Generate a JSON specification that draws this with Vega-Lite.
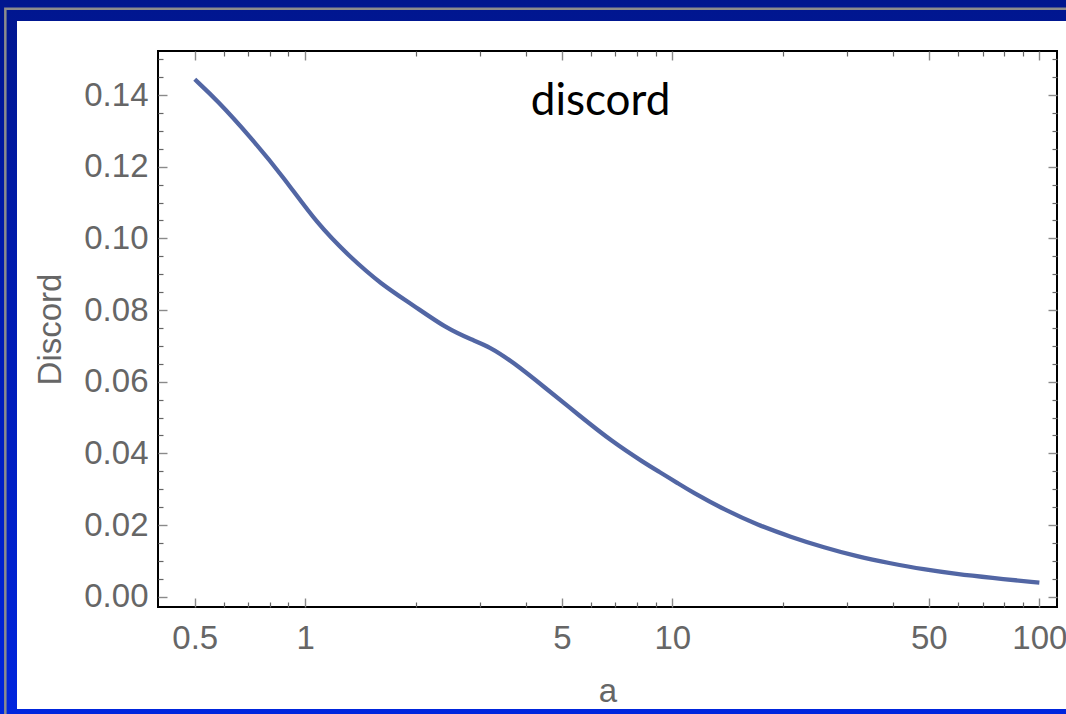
{
  "$schema": "https://vega.github.io/schema/vega-lite/v6.json",
  "width": 899,
  "height": 556,
  "autosize": "none",
  "padding": {"left": 158, "top": 51, "right": 9, "bottom": 107},
  "background": "#0a1fb0",
  "config": {
    "view": {"stroke": null},
    "axis": {
      "grid": false,
      "domain": false,
      "ticks": false,
      "labelFont": "Liberation Sans",
      "labelFontSize": 33,
      "labelColor": "#666666",
      "titleFont": "Liberation Sans",
      "titleFontSize": 33,
      "titleFontWeight": "normal",
      "titleColor": "#666666"
    }
  },
  "data": {
    "values": [
      {"a": 0.5, "D": 0.1444},
      {"a": 0.576, "D": 0.1385},
      {"a": 0.709, "D": 0.1283},
      {"a": 0.873, "D": 0.1171},
      {"a": 1.076, "D": 0.1041},
      {"a": 1.324, "D": 0.0948},
      {"a": 1.61, "D": 0.0872},
      {"a": 1.966, "D": 0.0814},
      {"a": 2.42, "D": 0.0749},
      {"a": 2.86, "D": 0.0716},
      {"a": 3.17, "D": 0.0698},
      {"a": 3.67, "D": 0.0656},
      {"a": 4.52, "D": 0.0582},
      {"a": 5.56, "D": 0.0507},
      {"a": 6.85, "D": 0.0433},
      {"a": 8.44, "D": 0.0372},
      {"a": 9.16, "D": 0.0350},
      {"a": 10.38, "D": 0.0316},
      {"a": 11.28, "D": 0.0293},
      {"a": 13.9, "D": 0.0242},
      {"a": 17.1, "D": 0.0200},
      {"a": 21.0, "D": 0.0167},
      {"a": 25.9, "D": 0.0137},
      {"a": 31.9, "D": 0.0112},
      {"a": 39.3, "D": 0.0093},
      {"a": 48.4, "D": 0.0076},
      {"a": 59.6, "D": 0.0063},
      {"a": 73.3, "D": 0.0053},
      {"a": 100, "D": 0.0039}
    ]
  },
  "resolve": {"axis": {"x": "independent", "y": "independent"}},
  "layer": [
    {
      "data": {"values": [{}]},
      "mark": {
        "type": "rect",
        "fill": {
          "gradient": "linear", "x1": 0, "y1": 0, "x2": 0, "y2": 1,
          "stops": [
            {"offset": 0.0, "color": "#00148a"},
            {"offset": 0.08, "color": "#00168f"},
            {"offset": 0.5, "color": "#001cb8"},
            {"offset": 0.91, "color": "#0025de"},
            {"offset": 1.0, "color": "#0026e0"}
          ]
        }
      },
      "encoding": {
        "x": {"datum": 0.09, "type": "quantitative", "scale": {"type": "log", "domain": [0.397, 111.7], "nice": false}, "axis": null},
        "x2": {"datum": 300},
        "y": {"datum": 0.185, "type": "quantitative", "scale": {"domain": [-0.00288, 0.1523], "nice": false, "zero": false}, "axis": null},
        "y2": {"datum": -0.055}
      }
    },
    {
      "data": {"values": [{}]},
      "mark": {"type": "rect", "fill": "transparent", "stroke": "#8c8c8c", "strokeWidth": 2.5},
      "encoding": {
        "x": {"datum": 0.15236, "type": "quantitative", "scale": {"type": "log", "domain": [0.397, 111.7], "nice": false}, "axis": null},
        "x2": {"datum": 300},
        "y": {"datum": 0.16411, "type": "quantitative", "scale": {"domain": [-0.00288, 0.1523], "nice": false, "zero": false}, "axis": null},
        "y2": {"datum": -0.055}
      }
    },
    {
      "data": {"values": [{}]},
      "mark": {"type": "rect", "fill": "#ffffff"},
      "encoding": {
        "x": {"datum": 0.16393, "type": "quantitative", "scale": {"type": "log", "domain": [0.397, 111.7], "nice": false}, "axis": null},
        "x2": {"datum": 300},
        "y": {"datum": 0.16067, "type": "quantitative", "scale": {"domain": [-0.00288, 0.1523], "nice": false, "zero": false}, "axis": null},
        "y2": {"datum": -0.03135}
      }
    },
    {
      "data": {"values": [{}]},
      "mark": {"type": "rect", "fill": "transparent", "stroke": "#000000", "strokeWidth": 2},
      "encoding": {}
    },
    {
      "mark": {"type": "line", "color": "#5266a4", "strokeWidth": 4.3, "interpolate": "basis"},
      "encoding": {
        "x": {
          "field": "a", "type": "quantitative",
          "scale": {"type": "log", "domain": [0.397, 111.7], "nice": false},
          "axis": {"orient": "bottom", "zindex": 1, "values": [0.5, 1, 5, 10, 50, 100], "format": "~g", "labelPadding": 15, "title": "a", "titlePadding": 20}
        },
        "y": {
          "field": "D", "type": "quantitative",
          "scale": {"domain": [-0.00288, 0.1523], "nice": false, "zero": false},
          "axis": {"orient": "left", "zindex": 1, "values": [0, 0.02, 0.04, 0.06, 0.08, 0.1, 0.12, 0.14], "format": ".2f", "labelPadding": 10, "title": "Discord", "titlePadding": 16}
        }
      }
    },
    {
      "mark": {"type": "point", "opacity": 0},
      "encoding": {
        "x": {
          "field": "a", "type": "quantitative",
          "scale": {"type": "log", "domain": [0.397, 111.7], "nice": false},
          "axis": {"orient": "bottom", "zindex": 1, "offset": -9, "ticks": true, "tickSize": 9, "tickWidth": 1.4, "tickColor": "#8a8a8a", "labels": false, "title": null, "values": [0.5, 1, 5, 10, 50, 100]}
        },
        "y": {
          "field": "D", "type": "quantitative",
          "scale": {"domain": [-0.00288, 0.1523], "nice": false, "zero": false},
          "axis": {"orient": "left", "zindex": 1, "offset": -9, "ticks": true, "tickSize": 9, "tickWidth": 1.4, "tickColor": "#8a8a8a", "labels": false, "title": null, "values": [0, 0.02, 0.04, 0.06, 0.08, 0.1, 0.12, 0.14]}
        }
      }
    },
    {
      "mark": {"type": "point", "opacity": 0},
      "encoding": {
        "x": {
          "field": "a", "type": "quantitative",
          "scale": {"type": "log", "domain": [0.397, 111.7], "nice": false},
          "axis": {"orient": "bottom", "zindex": 1, "offset": -5, "ticks": true, "tickSize": 5, "tickWidth": 1.2, "tickColor": "#666666", "labels": false, "title": null, "values": [0.6, 0.7, 0.8, 0.9, 2, 3, 4, 6, 7, 8, 9, 20, 30, 40, 60, 70, 80, 90]}
        },
        "y": {
          "field": "D", "type": "quantitative",
          "scale": {"domain": [-0.00288, 0.1523], "nice": false, "zero": false},
          "axis": {"orient": "left", "zindex": 1, "offset": -5, "ticks": true, "tickSize": 5, "tickWidth": 1.2, "tickColor": "#666666", "labels": false, "title": null, "values": [0.005, 0.01, 0.015, 0.025, 0.03, 0.035, 0.045, 0.05, 0.055, 0.065, 0.07, 0.075, 0.085, 0.09, 0.095, 0.105, 0.11, 0.115, 0.125, 0.13, 0.135, 0.145, 0.15]}
        }
      }
    },
    {
      "mark": {"type": "point", "opacity": 0},
      "encoding": {
        "x": {
          "field": "a", "type": "quantitative",
          "scale": {"type": "log", "domain": [0.397, 111.7], "nice": false},
          "axis": {"orient": "top", "zindex": 1, "offset": -9, "ticks": true, "tickSize": 9, "tickWidth": 1.4, "tickColor": "#8a8a8a", "labels": false, "title": null, "values": [0.5, 1, 5, 10, 50, 100]}
        },
        "y": {
          "field": "D", "type": "quantitative",
          "scale": {"domain": [-0.00288, 0.1523], "nice": false, "zero": false},
          "axis": {"orient": "right", "zindex": 1, "offset": -9, "ticks": true, "tickSize": 9, "tickWidth": 1.4, "tickColor": "#8a8a8a", "labels": false, "title": null, "values": [0, 0.02, 0.04, 0.06, 0.08, 0.1, 0.12, 0.14]}
        }
      }
    },
    {
      "mark": {"type": "point", "opacity": 0},
      "encoding": {
        "x": {
          "field": "a", "type": "quantitative",
          "scale": {"type": "log", "domain": [0.397, 111.7], "nice": false},
          "axis": {"orient": "top", "zindex": 1, "offset": -5, "ticks": true, "tickSize": 5, "tickWidth": 1.2, "tickColor": "#666666", "labels": false, "title": null, "values": [0.6, 0.7, 0.8, 0.9, 2, 3, 4, 6, 7, 8, 9, 20, 30, 40, 60, 70, 80, 90]}
        },
        "y": {
          "field": "D", "type": "quantitative",
          "scale": {"domain": [-0.00288, 0.1523], "nice": false, "zero": false},
          "axis": {"orient": "right", "zindex": 1, "offset": -5, "ticks": true, "tickSize": 5, "tickWidth": 1.2, "tickColor": "#666666", "labels": false, "title": null, "values": [0.005, 0.01, 0.015, 0.025, 0.03, 0.035, 0.045, 0.05, 0.055, 0.065, 0.07, 0.075, 0.085, 0.09, 0.095, 0.105, 0.11, 0.115, 0.125, 0.13, 0.135, 0.145, 0.15]}
        }
      }
    },
    {
      "data": {"values": [{"label": "discord"}]},
      "mark": {"type": "text", "font": "Lato", "fontSize": 44, "color": "#000000", "align": "center", "baseline": "alphabetic"},
      "encoding": {
        "x": {"datum": 6.375, "type": "quantitative", "scale": {"type": "log", "domain": [0.397, 111.7], "nice": false}, "axis": null},
        "y": {"datum": 0.13444, "type": "quantitative", "scale": {"domain": [-0.00288, 0.1523], "nice": false, "zero": false}, "axis": null},
        "text": {"field": "label"}
      }
    }
  ]
}
